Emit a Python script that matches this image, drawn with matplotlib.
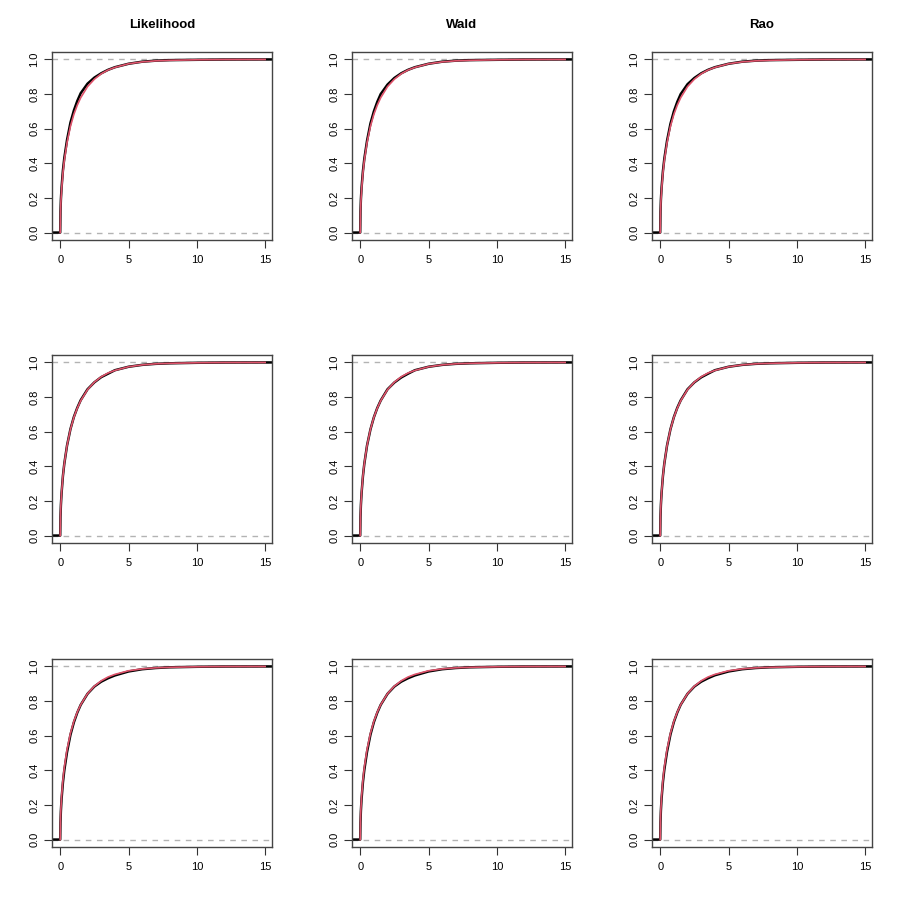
import matplotlib
matplotlib.use("Agg")
import matplotlib.pyplot as plt

plt.rcParams['font.family'] = ['Liberation Sans', 'DejaVu Sans']

titles = ["Likelihood", "Wald", "Rao"]

x_grid = [0, 0.02, 0.05, 0.1, 0.2, 0.3, 0.5, 0.75, 1, 1.25, 1.5, 2, 2.5, 3, 3.5, 4, 5, 6, 7, 8, 10, 12, 15]

# reference chi-square(1) curve (red)
ref_cdf = [0, 0.112, 0.177, 0.248, 0.345, 0.416, 0.520, 0.614, 0.683, 0.736, 0.779, 0.843, 0.886,
           0.917, 0.939, 0.954, 0.975, 0.986, 0.992, 0.995, 0.998, 0.9995, 0.9999]

# empirical curves (black), one per panel, row by row
ecdf_row1_lik = [0, 0.12, 0.19, 0.26, 0.36, 0.43, 0.535, 0.635, 0.705, 0.76, 0.805, 0.86, 0.895,
                 0.92, 0.94, 0.955, 0.975, 0.987, 0.993, 0.996, 0.998, 0.9995, 1.0]
ecdf_row1_wald = [0, 0.12, 0.19, 0.26, 0.355, 0.425, 0.53, 0.63, 0.70, 0.755, 0.80, 0.855, 0.893,
                  0.92, 0.94, 0.955, 0.975, 0.987, 0.993, 0.996, 0.998, 0.9995, 1.0]
ecdf_row1_rao = [0, 0.118, 0.188, 0.258, 0.355, 0.425, 0.53, 0.628, 0.70, 0.755, 0.80, 0.857, 0.893,
                 0.92, 0.94, 0.955, 0.975, 0.987, 0.993, 0.996, 0.998, 0.9995, 1.0]
ecdf_row2_lik = [0, 0.11, 0.175, 0.245, 0.345, 0.415, 0.52, 0.615, 0.685, 0.738, 0.782, 0.845, 0.885,
                 0.915, 0.935, 0.955, 0.975, 0.986, 0.992, 0.995, 0.998, 0.9995, 1.0]
ecdf_row2_wald = [0, 0.11, 0.175, 0.245, 0.343, 0.414, 0.52, 0.613, 0.683, 0.737, 0.78, 0.845, 0.884,
                  0.913, 0.935, 0.955, 0.975, 0.986, 0.992, 0.995, 0.998, 0.9995, 1.0]
ecdf_row2_rao = [0, 0.111, 0.176, 0.246, 0.344, 0.415, 0.52, 0.614, 0.684, 0.738, 0.781, 0.845, 0.885,
                 0.914, 0.935, 0.955, 0.975, 0.986, 0.992, 0.995, 0.998, 0.9995, 1.0]
ecdf_row3_lik = [0, 0.10, 0.165, 0.235, 0.33, 0.40, 0.505, 0.605, 0.677, 0.733, 0.778, 0.842, 0.884,
                 0.912, 0.932, 0.948, 0.971, 0.984, 0.991, 0.995, 0.998, 0.9995, 1.0]
ecdf_row3_wald = [0, 0.10, 0.165, 0.235, 0.332, 0.402, 0.507, 0.606, 0.678, 0.733, 0.778, 0.842, 0.884,
                  0.912, 0.932, 0.948, 0.971, 0.984, 0.991, 0.995, 0.998, 0.9995, 1.0]
ecdf_row3_rao = [0, 0.102, 0.167, 0.237, 0.333, 0.403, 0.508, 0.607, 0.679, 0.734, 0.779, 0.842, 0.884,
                 0.912, 0.932, 0.949, 0.971, 0.984, 0.991, 0.995, 0.998, 0.9995, 1.0]

panels = [[ecdf_row1_lik, ecdf_row1_wald, ecdf_row1_rao],
          [ecdf_row2_lik, ecdf_row2_wald, ecdf_row2_rao],
          [ecdf_row3_lik, ecdf_row3_wald, ecdf_row3_rao]]

W, H = 900, 913
fig = plt.figure(figsize=(W / 100, H / 100), dpi=100)

col_left = [52, 352, 652]
row_top = [52, 355, 659]
aw, ah = 220, 188

for r in range(3):
    for c in range(3):
        ax = fig.add_axes([col_left[c] / W, 1 - (row_top[r] + ah) / H, aw / W, ah / H])
        ecdf = panels[r][c]
        ax.axhline(0, color='#B3B3B3', lw=1, ls=(0, (4, 4)))
        ax.axhline(1, color='#B3B3B3', lw=1, ls=(0, (4, 4)))
        ax.plot([-0.6] + x_grid + [15.5], [0] + ecdf + [1], color='black', lw=1.8,
                solid_capstyle='butt')
        ax.plot(x_grid, ref_cdf, color='#DF536B', lw=1.2)
        ax.set_xlim(-0.6, 15.5)
        ax.set_ylim(-0.043, 1.043)
        ax.set_xticks([0, 5, 10, 15])
        ax.set_yticks([0, 0.2, 0.4, 0.6, 0.8, 1.0])
        ax.set_yticklabels(["0.0", "0.2", "0.4", "0.6", "0.8", "1.0"], rotation=90, va='center')
        ax.tick_params(direction='out', length=6, width=0.8, labelsize=8, color='#333333')
        ax.tick_params(axis='x', pad=5)
        ax.tick_params(axis='y', pad=3)
        for s in ax.spines.values():
            s.set_linewidth(1.0)
            s.set_color('#444444')
        if r == 0:
            ax.set_title(titles[c], fontsize=9.5, fontweight='bold', pad=17)

fig.savefig("out.png", dpi=100)
